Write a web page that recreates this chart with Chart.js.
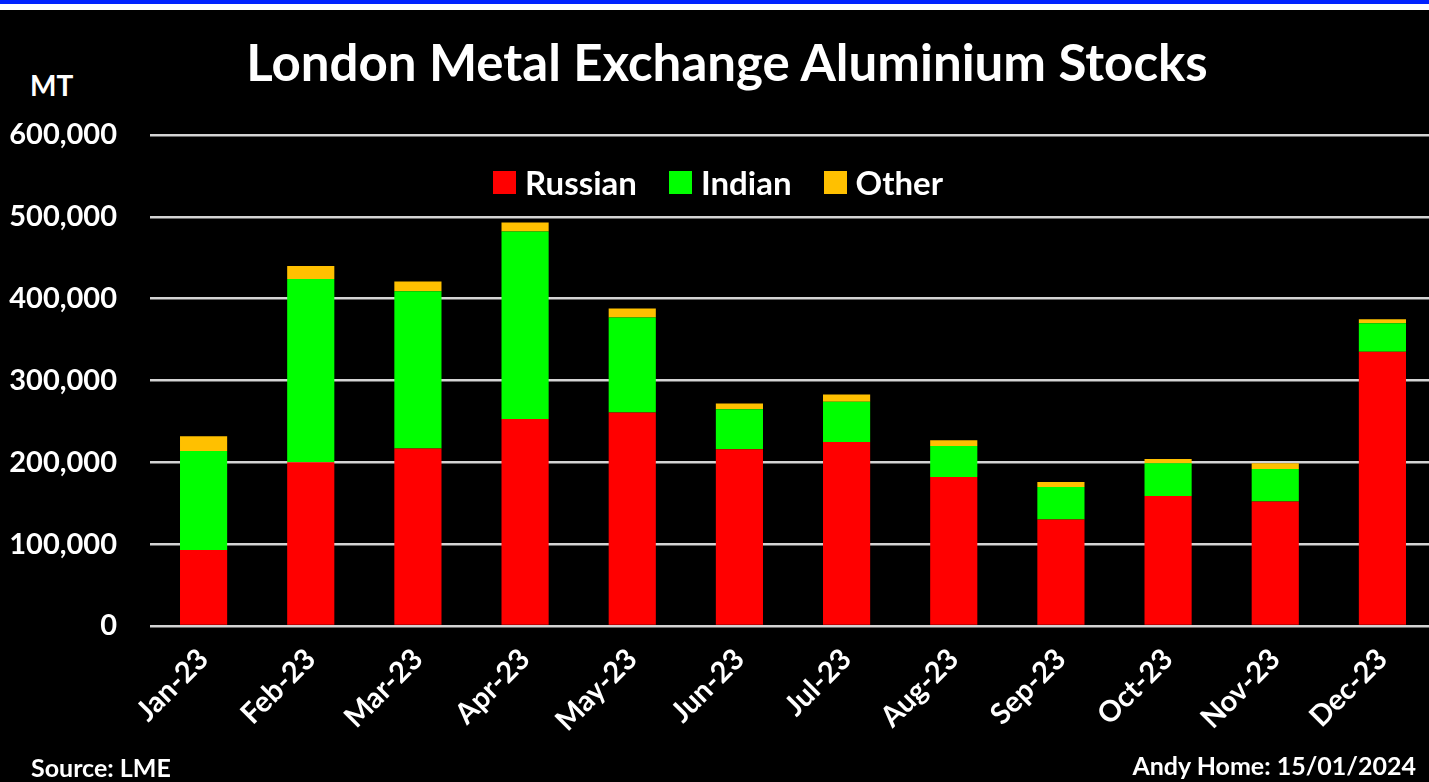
<!DOCTYPE html>
<html>
<head>
<meta charset="utf-8">
<script src="https://cdn.jsdelivr.net/npm/chart.js@4/dist/chart.umd.min.js"></script>
<style>
  body { margin: 0; background: #000; width: 1429px; height: 782px; overflow: hidden; position: relative; font-family: Lato, "Open Sans", sans-serif; font-weight: bold; color: #fff; }
  #topBar { position: absolute; left: 0; top: 0; width: 1429px; height: 4px; background: #0022ff; }
  #topWhite { position: absolute; left: 0; top: 4px; width: 1429px; height: 6px; background: #fff; }
  #wrap { position: absolute; left: 0; top: 10px; width: 1436px; height: 772px; }
  .txt { position: absolute; white-space: nowrap; line-height: 1; }
  #title { left: 0; width: 1454px; top: 36px; text-align: center; font-size: 51px; }
  #unit { left: 30px; top: 71px; font-size: 28px; }
  #source { left: 31px; top: 755px; font-size: 25px; }
  #credit { right: 13px; top: 753px; font-size: 25px; }
  #legend { position: absolute; top: 162px; left: 493px; display: flex; font-size: 33px; }
  #legend span.item { display: flex; align-items: center; margin-right: 32px; }
  #legend span.box { width: 23px; height: 23px; margin-right: 9px; display: inline-block; }
</style>
</head>
<body>
<div id="topBar"></div>
<div id="topWhite"></div>
<div class="txt" id="title">London Metal Exchange Aluminium Stocks</div>
<div class="txt" id="unit">MT</div>
<div id="wrap"><canvas id="stocksChart" width="1436" height="772"></canvas></div>
<div id="legend"></div>
<div class="txt" id="source">Source: LME</div>
<div class="txt" id="credit">Andy Home: 15/01/2024</div>
<script>
//Datos (toneladas)
const months = ["Jan-23", "Feb-23", "Mar-23", "Apr-23", "May-23", "Jun-23", "Jul-23", "Aug-23", "Sep-23", "Oct-23", "Nov-23", "Dec-23"];
const russian = [93000, 200000, 217000, 253000, 261000, 216000, 225000, 182000, 130000, 159000, 152000, 335000];
const indian = [121000, 224000, 192000, 229000, 116000, 49000, 49000, 38000, 40000, 40000, 40000, 35000];
const other = [18000, 16000, 12000, 11000, 11000, 7000, 9000, 7000, 6000, 5000, 7000, 5000];

const seriesNames = ["Russian", "Indian", "Other"];
const seriesColors = ["#ff0000", "#00ff00", "#ffc000"];

const fontFamily = "Lato, 'Open Sans', sans-serif";

const datasets = [russian, indian, other].map((values, i) => ({
    label: seriesNames[i],
    data: values,
    backgroundColor: seriesColors[i],
    borderWidth: 0,
    categoryPercentage: 1,
    barPercentage: 0.44
}));

const chart = new Chart(document.getElementById("stocksChart"), {
    type: "bar",
    data: { labels: months, datasets: datasets },
    options: {
        responsive: false,
        animation: false,
        devicePixelRatio: 1,
        layout: { padding: { top: 125, right: 0, bottom: 0, left: 0 } },
        plugins: {
            legend: { display: false },
            title: { display: false },
            tooltip: { enabled: false }
        },
        scales: {
            x: {
                stacked: true,
                grid: { display: false },
                border: { display: false },
                ticks: {
                    color: "#ffffff",
                    font: { family: fontFamily, size: 29, weight: "bold" },
                    minRotation: 45,
                    maxRotation: 45,
                    padding: 8
                },
                afterFit: (scale) => { scale.height = 156; }
            },
            y: {
                stacked: true,
                min: 0,
                max: 600000,
                border: { display: false },
                grid: { color: "#d4d4d4", lineWidth: 2.5, drawTicks: false },
                ticks: {
                    stepSize: 100000,
                    color: "#ffffff",
                    padding: 33,
                    font: { family: fontFamily, size: 29, weight: "bold" },
                    callback: (v) => v.toLocaleString("en-US")
                },
                afterFit: (scale) => { scale.width = 150; }
            }
        }
    }
});

//Leyenda
const legendBox = document.getElementById("legend");
chart.data.datasets.forEach(ds => {
    const item = document.createElement("span");
    item.className = "item";
    const box = document.createElement("span");
    box.className = "box";
    box.style.background = ds.backgroundColor;
    item.appendChild(box);
    item.appendChild(document.createTextNode(ds.label));
    legendBox.appendChild(item);
});
</script>
</body>
</html>
